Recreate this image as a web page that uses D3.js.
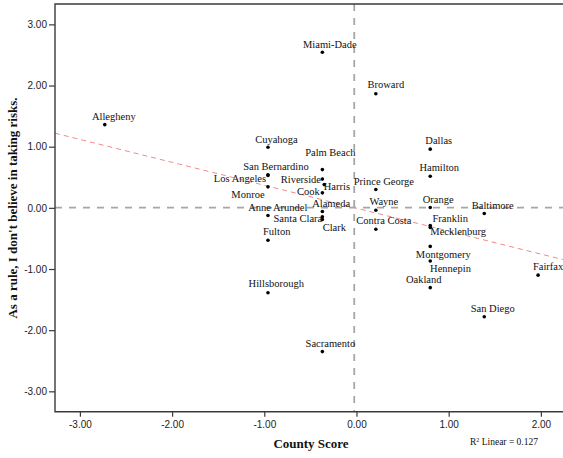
<!DOCTYPE html>
<html>
<head>
<meta charset="utf-8">
<script src="https://cdn.jsdelivr.net/npm/d3@7"></script>
<style>
  html, body { margin: 0; padding: 0; background: #fff; }
  svg { display: block; }
</style>
</head>
<body>
<svg id="chart" width="563" height="458"></svg>
<script>
// County names, their county score (x) and agreement with the risk statement (y)
const counties = [
  "Allegheny", "Miami-Dade", "Broward", "Cuyahoga", "Palm Beach",
  "Dallas", "Hamilton", "Prince George", "Orange", "Baltimore",
  "Wayne", "Contra Costa", "Franklin", "Mecklenburg", "Montgomery",
  "Hennepin", "Oakland", "Fairfax", "San Diego", "Hillsborough",
  "Sacramento", "Fulton", "Anne Arundel", "Santa Clara", "Clark",
  "Alameda", "Cook", "Harris", "Riverside", "San Bernardino",
  "Los Angeles", "Monroe"
];
const countyScore = [
  -2.73, -0.37, 0.21, -0.96, -0.37,
  0.80, 0.80, 0.21, 0.80, 1.386,
  0.21, 0.21, 0.80, 0.80, 0.80,
  0.80, 0.80, 1.97, 1.386, -0.96,
  -0.37, -0.96, -0.96, -0.37, -0.37,
  -0.37, -0.37, -0.35, -0.37, -0.96,
  -0.96, -0.96
];
const riskScore = [
  1.36, 2.545, 1.865, 0.99, 0.625,
  0.96, 0.516, 0.30, 0.005, -0.093,
  -0.04, -0.35, -0.29, -0.32, -0.63,
  -0.87, -1.305, -1.10, -1.78, -1.387,
  -2.35, -0.53, -0.126, -0.147, -0.19,
  -0.06, 0.245, 0.38, 0.47, 0.54,
  0.53, 0.343
];
const xTicks = [-3, -2, -1, 0, 1, 2];
const yTicks = [-3, -2, -1, 0, 1, 2, 3];
const xTitle = "County Score";
const yTitle = "As a rule, I don't believe in taking risks.";
const fitNote = "Linear = 0.127";

// Label placement around each point (pixel offsets of the label centre)
const labelOffset = {
  "Allegheny": [9, -8.5], "Miami-Dade": [7.5, -8], "Broward": [10, -9],
  "Cuyahoga": [8.5, -7.7], "Palm Beach": [8, -17.3], "Dallas": [8.5, -8.6],
  "Hamilton": [9, -8.4], "Prince George": [8, -8.3], "Orange": [8, -8],
  "Baltimore": [8.5, -8.3], "Wayne": [8, -8.7], "Contra Costa": [8, -8.3],
  "Franklin": [20, -7.4], "Mecklenburg": [28, 3.7], "Montgomery": [13, 8.3],
  "Hennepin": [20.3, 7.6], "Oakland": [-6.5, -8.3], "Fairfax": [10, -9],
  "San Diego": [8.5, -8], "Hillsborough": [8.3, -9], "Sacramento": [8, -8.3],
  "Fulton": [8.7, -8.7], "Anne Arundel": [9.8, -7.7], "Santa Clara": [-24.5, 2],
  "Clark": [12, 8.3], "Alameda": [8.8, -7.7], "Cook": [-14, -1],
  "Harris": [12.7, 1.7], "Riverside": [-21.5, 0], "San Bernardino": [8, -8.7],
  "Los Angeles": [-28, 3], "Monroe": [-20, 7.7]
};

const points = counties.map((name, i) => ({ name, x: countyScore[i], y: riskScore[i] }));

const svg = d3.select("#chart");
const plotLeft = 55, plotRight = 563, plotTop = 4, plotBottom = 411.7;

const x = d3.scaleLinear().domain([-3.27, 2.24]).range([plotLeft, plotRight]);
const y = d3.scaleLinear().domain([-3.333, 3.333]).range([plotBottom, plotTop]);

const serif = "'Liberation Serif', 'Times New Roman', serif";
const sans = "'Liberation Sans', Arial, sans-serif";
// Tick format with a plain hyphen for negatives
const tickFmt = d => d.toFixed(2);

// Plot area clip
svg.append("defs").append("clipPath").attr("id", "plot")
  .append("rect").attr("x", plotLeft).attr("y", plotTop)
  .attr("width", plotRight - plotLeft).attr("height", plotBottom - plotTop);

// Reference lines at the means
const meanX = d3.mean(points, d => d.x);
const meanY = d3.mean(points, d => d.y);
const refG = svg.append("g").attr("clip-path", "url(#plot)")
  .attr("stroke", "#a6a6a6").attr("stroke-width", 1.8)
  .attr("stroke-dasharray", "7,7");
refG.append("line")
  .attr("x1", x(meanX)).attr("x2", x(meanX))
  .attr("y1", plotTop).attr("y2", plotBottom);
refG.append("line")
  .attr("x1", plotLeft).attr("x2", plotRight)
  .attr("y1", y(meanY)).attr("y2", y(meanY));

// Least-squares fit line
const sxy = d3.sum(points, d => (d.x - meanX) * (d.y - meanY));
const sxx = d3.sum(points, d => (d.x - meanX) ** 2);
const slope = sxy / sxx;
const intercept = meanY - slope * meanX;
const xd = x.domain();
svg.append("line").attr("clip-path", "url(#plot)")
  .attr("x1", x(xd[0])).attr("y1", y(intercept + slope * xd[0]))
  .attr("x2", x(xd[1])).attr("y2", y(intercept + slope * xd[1]))
  .attr("stroke", "#f28a8a").attr("stroke-width", 1)
  .attr("stroke-dasharray", "5,4");

// Frame of the plot area
svg.append("path")
  .attr("d", `M${plotRight + 2},${plotTop}H${plotLeft}V${plotBottom}H${plotRight + 2}`)
  .attr("fill", "none").attr("stroke", "#3a3a3a").attr("stroke-width", 1.4);

// Axes
const xAxis = d3.axisBottom(x).tickValues(xTicks).tickFormat(tickFmt)
  .tickSize(5).tickPadding(4);
const gx = svg.append("g").attr("transform", `translate(0,${plotBottom})`).call(xAxis);
gx.select(".domain").remove();

const yAxis = d3.axisLeft(y).tickValues(yTicks).tickFormat(tickFmt)
  .tickSize(6).tickPadding(2);
const gy = svg.append("g").attr("transform", `translate(${plotLeft},0)`).call(yAxis);
gy.select(".domain").remove();

[gx, gy].forEach(g => {
  g.selectAll(".tick line").attr("stroke", "#3a3a3a").attr("stroke-width", 1.2);
  g.selectAll(".tick text").attr("fill", "#222")
    .style("font-family", sans).style("font-size", "10px");
});

// Points
svg.append("g").selectAll("circle").data(points).join("circle")
  .attr("cx", d => x(d.x)).attr("cy", d => y(d.y)).attr("r", 1.8)
  .attr("fill", "#000");

// Point labels
svg.append("g").selectAll("text").data(points).join("text")
  .attr("x", d => x(d.x) + labelOffset[d.name][0])
  .attr("y", d => y(d.y) + labelOffset[d.name][1] + 3.5)
  .attr("text-anchor", "middle")
  .style("font-family", serif).style("font-size", "10.5px")
  .attr("fill", "#111")
  .text(d => d.name);

// Axis titles
svg.append("text")
  .attr("x", 311).attr("y", 448)
  .attr("text-anchor", "middle")
  .style("font-family", serif).style("font-size", "13px").style("font-weight", "bold")
  .attr("fill", "#111")
  .text(xTitle);

svg.append("text")
  .attr("transform", "translate(17,208) rotate(-90)")
  .attr("text-anchor", "middle")
  .style("font-family", serif).style("font-size", "13px").style("font-weight", "bold")
  .attr("fill", "#111")
  .text(yTitle);

// Fit note
const note = svg.append("text")
  .attr("x", 470).attr("y", 445)
  .style("font-family", serif).style("font-size", "9.5px")
  .attr("fill", "#111");
note.append("tspan").text("R");
note.append("tspan").attr("dy", -3).style("font-size", "6px").text("2");
note.append("tspan").attr("dy", 3).text(" " + fitNote);
</script>
</body>
</html>
